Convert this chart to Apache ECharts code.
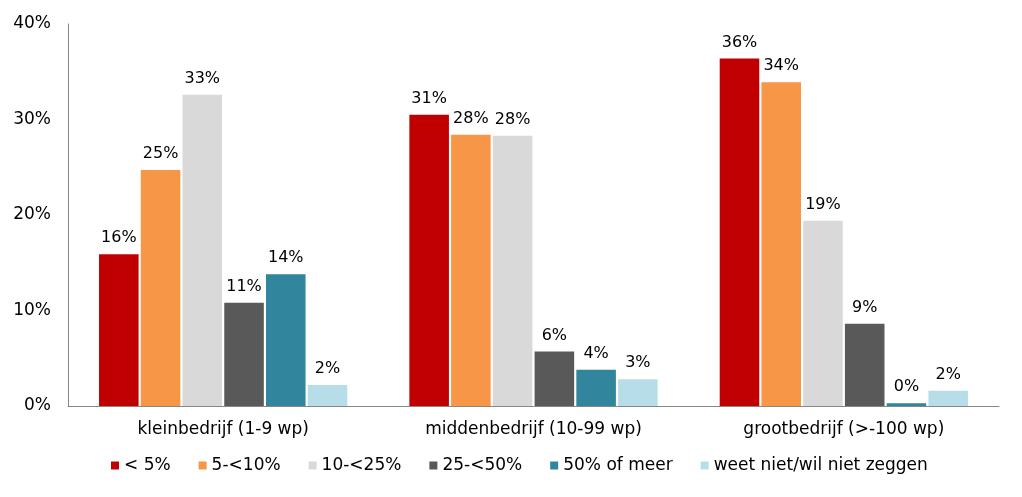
<!DOCTYPE html>
<html><head><meta charset="utf-8">
<script src="https://cdn.jsdelivr.net/npm/echarts@6/dist/echarts.min.js"></script>
<style>html,body{margin:0;padding:0;background:#fff}#c{width:1022px;height:497px}</style>
</head><body><div id="c"></div>
<script>
const categories = ['kleinbedrijf (1-9 wp)', 'middenbedrijf (10-99 wp)', 'grootbedrijf (>-100 wp)'];
const seriesNames = ['< 5%', '5-<10%', '10-<25%', '25-<50%', '50% of meer', 'weet niet/wil niet zeggen'];
const lt5 = [15.9, 30.5, 36.4];
const s5to10 = [24.7, 28.4, 33.9];
const s10to25 = [32.6, 28.3, 19.4];
const s25to50 = [10.8, 5.7, 8.6];
const s50plus = [13.8, 3.8, 0.3];
const unknown = [2.2, 2.8, 1.6];
const yTicks = [0, 10, 20, 30, 40];
const colors = ['#C00000', '#F79646', '#D9D9D9', '#595959', '#31859C', '#B7DEE8'];
const values = [lt5, s5to10, s10to25, s25to50, s50plus, unknown];
const font = 'Verdana, "DejaVu Sans", sans-serif';

const chart = echarts.init(document.getElementById('c'));
chart.setOption({
  animation: false,
  color: colors,
  textStyle: {fontFamily: font},
  grid: {left: 68, right: 23, top: 24, bottom: 91, containLabel: false},
  legend: {
    data: seriesNames,
    top: 457,
    left: 111,
    padding: 0,
    itemWidth: 8, itemHeight: 8, itemGap: 28,
    icon: 'rect',
    textStyle: {fontFamily: font, fontSize: 17, color: '#000'}
  },
  xAxis: {
    type: 'category', data: categories,
    axisLine: {lineStyle: {color: '#868686', width: 1}},
    axisTick: {show: false},
    axisLabel: {fontFamily: font, fontSize: 17, color: '#000', margin: 15}
  },
  yAxis: {
    type: 'value', min: yTicks[0], max: yTicks[yTicks.length - 1], interval: 10,
    axisLine: {show: true, lineStyle: {color: '#868686', width: 1}},
    axisTick: {show: false},
    splitLine: {show: false},
    axisLabel: {fontFamily: font, fontSize: 17, color: '#000', margin: 17, formatter: '{value}%'}
  },
  series: seriesNames.map((n, i) => ({
    name: n, type: 'bar', data: values[i],
    barGap: '5.5%', barCategoryGap: '20%',
    itemStyle: {color: colors[i]},
    label: {show: true, position: 'top', distance: 8, fontFamily: font, fontSize: 16, color: '#000',
      formatter: p => Math.round(p.value) + '%'}
  }))
});
</script></body></html>
